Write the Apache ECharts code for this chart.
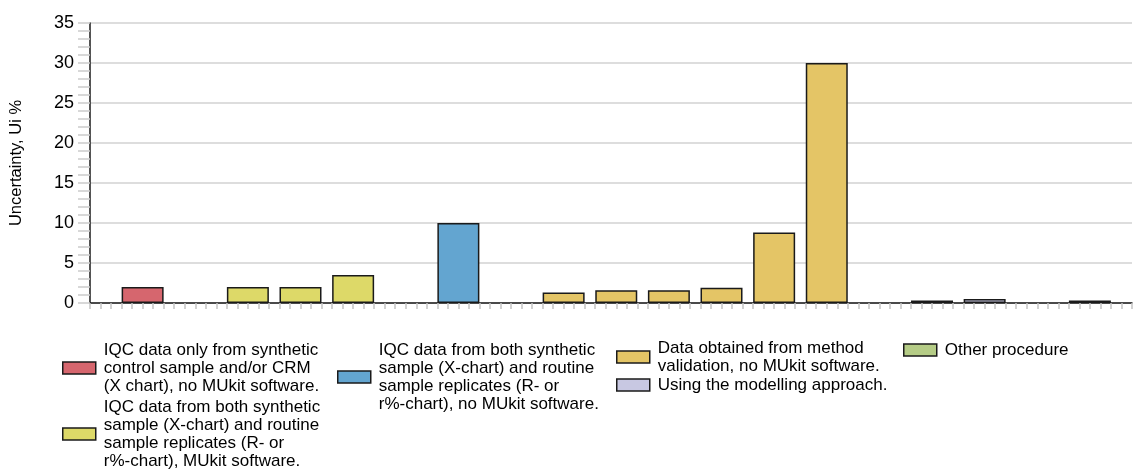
<!DOCTYPE html>
<html>
<head>
<meta charset="utf-8">
<script src="https://cdn.jsdelivr.net/npm/echarts@6/dist/echarts.min.js"></script>
<style>html,body{margin:0;padding:0;background:#fff}#c{width:1134px;height:470px}</style>
</head>
<body>
<div id="c"></div>
<script>
// ---- data ----
const seriesNames = [
  "IQC data only from synthetic\ncontrol sample and/or CRM\n(X chart), no MUkit software.",
  "IQC data from both synthetic\nsample (X-chart) and routine\nsample replicates (R- or\nr%-chart), MUkit software.",
  "IQC data from both synthetic\nsample (X-chart) and routine\nsample replicates (R- or\nr%-chart), no MUkit software.",
  "Data obtained from method\nvalidation, no MUkit software.",
  "Using the modelling approach.",
  "Other procedure"
];
// laboratory slot index along the x axis, and uncertainty Ui % per series
const redSlots = [1];            const redValues = [2.0];
const yellowSlots = [3, 4, 5];   const yellowValues = [2.0, 2.0, 3.5];
const blueSlots = [7];           const blueValues = [10.0];
const orangeSlots = [9, 10, 11, 12, 13, 14];
const orangeValues = [1.3, 1.6, 1.6, 1.9, 8.8, 30.0];
const purpleSlots = [17];        const purpleValues = [0.5];
const greenSlots = [16, 19];     const greenValues = [0.3, 0.3];
const yTitle = "Uncertainty, Ui %";

// ---- styles ----
const colors = ["#D6666E", "#DDD968", "#63A5D0", "#E4C566", "#C8C8E2", "#B5CC86"];
const FONT = "'Liberation Sans', Arial, sans-serif";

const pairs = (xs, ys) => xs.map((x, i) => [x, ys[i]]);
const seriesData = [
  pairs(redSlots, redValues),
  pairs(yellowSlots, yellowValues),
  pairs(blueSlots, blueValues),
  pairs(orangeSlots, orangeValues),
  pairs(purpleSlots, purpleValues),
  pairs(greenSlots, greenValues)
];

const chart = echarts.init(document.getElementById('c'), null, {renderer: 'canvas'});

const legendBase = {
  type: 'plain',
  orient: 'vertical',
  padding: 0,
  height: 400,
  itemWidth: 33,
  itemHeight: 12,
  icon: 'rect',
  selectedMode: false,
  itemStyle: {borderColor: '#1a1a1a', borderWidth: 1.5},
  textStyle: {fontFamily: FONT, fontSize: 17, lineHeight: 18, color: '#000', padding: [0, 0, 0, 3]}
};

chart.setOption({
  animation: false,
  backgroundColor: '#fff',
  grid: {left: 90, right: 2, top: 23, bottom: 167, containLabel: false, outerBoundsMode: 'none'},
  legend: [
    Object.assign({}, legendBase, {left: 62, top: 341, itemGap: 3, data: [seriesNames[0], seriesNames[1]]}),
    Object.assign({}, legendBase, {left: 337, top: 341, data: [seriesNames[2]]}),
    Object.assign({}, legendBase, {left: 616, top: 339, itemGap: 1, data: [seriesNames[3], seriesNames[4]]}),
    Object.assign({}, legendBase, {left: 903, top: 341, data: [seriesNames[5]]})
  ],
  xAxis: {
    type: 'value',
    min: 0,
    max: 19.8,
    interval: 0.2,
    axisLine: {show: true, lineStyle: {color: '#1a1a1a', width: 1.5}},
    axisTick: {show: true, length: 6, lineStyle: {color: '#c4c4c4', width: 1.5}},
    axisLabel: {show: false},
    splitLine: {show: false}
  },
  yAxis: {
    type: 'value',
    min: 0,
    max: 35,
    interval: 5,
    name: yTitle,
    nameLocation: 'middle',
    nameGap: 65,
    nameRotate: 90,
    nameTextStyle: {fontFamily: FONT, fontSize: 16.5, color: '#000'},
    axisLine: {show: true, lineStyle: {color: '#1a1a1a', width: 1.5}},
    axisTick: {show: true, length: 12, lineStyle: {color: '#cccccc', width: 1.5}},
    minorTick: {show: true, splitNumber: 5, length: 12, lineStyle: {color: '#cccccc', width: 1.5}},
    axisLabel: {fontFamily: FONT, fontSize: 18, color: '#000', margin: 16},
    splitLine: {show: true, lineStyle: {color: '#d2d2d2', width: 1.5}}
  },
  series: seriesNames.map((name, i) => ({
    name: name,
    type: 'bar',
    stack: 'all',
    barWidth: 42,
    data: seriesData[i],
    itemStyle: {color: colors[i], borderColor: '#1a1a1a', borderWidth: 1.5},
    emphasis: {disabled: true}
  }))
});
</script>
</body>
</html>
